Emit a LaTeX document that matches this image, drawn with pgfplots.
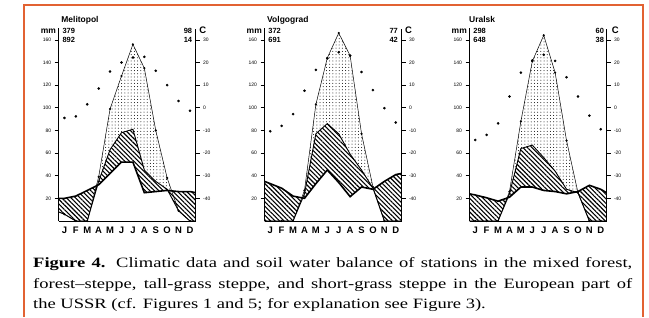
\documentclass[border=0pt]{standalone}
\usepackage{fontspec}
\setmainfont{Liberation Serif}
\setsansfont{Liberation Sans}
\newfontfamily\capfont{Liberation Serif}[FakeStretch=1.3]
\usepackage{pgfplots}
\pgfplotsset{compat=1.18}
\usepackage{pgfplotstable}
\usetikzlibrary{patterns.meta}
\definecolor{frameorange}{RGB}{226,98,50}

% x = month, P = precipitation, AE = actual ET, PE = potential ET (mm)
\pgfplotstableread{
x P AE PE
0.5 20 8 8
1 20 6 6
2 22 0 0
3 27 0 0
4 32 35 39
5 42 63 99
6 52 78 128
7 52 81 156
8 25 45 135
9 26 35 80
10 27 28 38
11 26 9 9
12 26 0 0
12.5 25 0 0
}\melitopol
\pgfplotstableread{
x y
0.5 20
1 20
2 22
3 27
4 32
5 42
6 52
7 52
8 25
9 26
10 27
11 26
12 26
12.5 25
12.5 0
12 0
11 9
10 28
9 35
8 45
7 81
6 78
5 63
4 35
3 0
2 0
1 6
0.5 8
}\melitopolH
\pgfplotstableread{
x y
3 0
4 35
5 63
6 78
7 81
8 45
9 35
10 28
11 9
10 38
9 80
8 135
7 156
6 128
5 99
4 39
3 0
}\melitopolD
\pgfplotstableread{
x T
1 -4.5
2 -3.8
3 1.5
4 8.5
5 16
6 20
7 22.2
8 22.5
9 16.3
10 10
11 3
12 -1.3
}\melitopolT

\pgfplotstableread{
x P AE PE
0.5 35 0 0
1 33 0 0
2 29 0 0
3 22 0 0
4 20 24 27
5 33 77 103
6 45 86 144
7 34 77 166
8 21.5 59 146
9 30 45 77
10 28 29 30
11 35 0 0
12 41 0 0
12.5 42 0 0
}\volgograd
\pgfplotstableread{
x y
0.5 35
1 33
2 29
3 22
4 20
5 33
6 45
7 34
8 21.5
9 30
10 28
11 35
12 41
12.5 42
12.5 0
12 0
11 0
10 29
9 45
8 59
7 77
6 86
5 77
4 24
3 0
2 0
1 0
0.5 0
}\volgogradH
\pgfplotstableread{
x y
3 0
4 24
5 77
6 86
7 77
8 59
9 45
10 29
11 0
10 30
9 77
8 146
7 166
6 144
5 103
4 27
3 0
}\volgogradD
\pgfplotstableread{
x T
1 -10.4
2 -8
3 -2.8
4 7.5
5 16.7
6 21.8
7 24.5
8 23
9 15.8
10 7.8
11 -0.2
12 -6.5
}\volgogradT

\pgfplotstableread{
x P AE PE
0.5 24 0 0
1 23 0 0
2 20.5 0 0
3 17.5 0 0
4 21 24 26
5 30 64 88
6 30 67 141
7 27 56 164
8 26 44 131
9 24 28 71
10 26 25 25
11 31.5 0 0
12 28 0 0
12.5 25 0 0
}\uralsk
\pgfplotstableread{
x y
0.5 24
1 23
2 20.5
3 17.5
4 21
5 30
6 30
7 27
8 26
9 24
10 26
11 31.5
12 28
12.5 25
12.5 0
12 0
11 0
10 25
9 28
8 44
7 56
6 67
5 64
4 24
3 0
2 0
1 0
0.5 0
}\uralskH
\pgfplotstableread{
x y
3 0
4 24
5 64
6 67
7 56
8 44
9 28
10 25
9 71
8 131
7 164
6 141
5 88
4 26
3 0
}\uralskD
\pgfplotstableread{
x T
1 -14.2
2 -12
3 -6.9
4 5
5 15.5
6 20.9
7 23.4
8 20.7
9 13.5
10 5
11 -3.5
12 -9.5
}\uralskT

\pgfplotsset{
  wbbase/.style={
    scale only axis, width=137bp, height=192.5bp,
    xmin=0.5, xmax=12.5, clip=false,
    axis line style={-, line width=0.8bp},
    tick align=outside, major tick length=4bp,
    /pgf/number format/assume math mode=true,
  },
  wb/.style={wbbase,
    ymin=0, ymax=170,
    axis x line*=bottom, axis y line*=left,
    xtick={1,...,12}, xticklabels={J,F,M,A,M,J,J,A,S,O,N,D},
    x tick style={draw=none},
    y tick style={line width=0.6bp, black},
    ytick={20,40,...,160},
    xticklabel style={font=\sffamily\bfseries\fontsize{9.5}{9.5}\selectfont, yshift=2bp},
    yticklabel style={font=\sffamily\fontsize{5}{5}\selectfont},
  },
  wbT/.style={wbbase,
    ymin=-50, ymax=35,
    axis x line=none, axis y line*=right,
    y tick style={line width=0.6bp, black},
    ytick={-40,-30,...,30},
    yticklabel style={font=\sffamily\fontsize{5}{5}\selectfont},
  },
  hatchfill/.style={draw=none, pattern={Lines[angle=-45, distance=3.2bp, line width=1.1bp]}, pattern color=black},
  dotfill/.style={draw=none, pattern={Dots[distance=3.2bp, radius=0.5bp]}, pattern color=black},
}
\tikzset{
  hdr/.style={anchor=base west, inner sep=0, font=\sffamily\bfseries\fontsize{7.5}{8}\selectfont},
  hdrr/.style={anchor=base east, inner sep=0, font=\sffamily\bfseries\fontsize{7.5}{8}\selectfont},
  nm/.style={anchor=base west, inner sep=0, font=\sffamily\bfseries\fontsize{8.5}{9}\selectfont},
  mmlab/.style={anchor=base east, inner sep=0, font=\sffamily\bfseries\fontsize{8.5}{9}\selectfont},
  clab/.style={anchor=base west, inner sep=0, font=\sffamily\bfseries\fontsize{9.5}{10}\selectfont},
  capline/.style={anchor=base west, inner sep=0, font=\capfont\fontsize{14.3}{17}\selectfont},
}

\begin{document}
\begin{tikzpicture}[x=1bp,y=1bp]
\path[use as bounding box, fill=white] (0,0) rectangle (649,317);
\draw[frameorange, line width=2bp] (24,0) -- (24,312) -- (643,312) -- (643,0);

% ---------------- Melitopol
\begin{axis}[wb, at={(58.7bp,96bp)}, anchor=south west]
  \addplot[dotfill] table[x=x,y=y]{\melitopolD} -- cycle;
  \addplot[hatchfill] table[x=x,y=y]{\melitopolH} -- cycle;
  \addplot[black, line width=0.5bp] table[x=x,y=PE]{\melitopol};
  \addplot[black, only marks, mark=*, mark size=0.9bp, restrict x to domain=1:12] table[x=x,y=PE]{\melitopol};
  \addplot[black, line width=0.9bp] table[x=x,y=AE]{\melitopol};
  \addplot[black, line width=1.6bp] table[x=x,y=P]{\melitopol};
  \node[nm] at (axis cs:0.72,175) {Melitopol};
  \node[mmlab] at (axis cs:0.28,166) {mm};
  \node[hdr] at (axis cs:0.82,166) {379};
  \node[hdr] at (axis cs:0.82,158) {892};
  \node[hdrr] at (axis cs:12.2,166) {98};
  \node[hdrr] at (axis cs:12.2,158) {14};
  \node[clab] at (axis cs:12.8,165.5) {C};
\end{axis}
\begin{axis}[wbT, at={(58.7bp,96bp)}, anchor=south west]
  \addplot[black, only marks, mark=*, mark size=1.1bp] table[x=x,y=T]{\melitopolT};
\end{axis}

% ---------------- Volgograd
\begin{axis}[wb, at={(264.5bp,96bp)}, anchor=south west]
  \addplot[dotfill] table[x=x,y=y]{\volgogradD} -- cycle;
  \addplot[hatchfill] table[x=x,y=y]{\volgogradH} -- cycle;
  \addplot[black, line width=0.5bp] table[x=x,y=PE]{\volgograd};
  \addplot[black, only marks, mark=*, mark size=0.9bp, restrict x to domain=1:12] table[x=x,y=PE]{\volgograd};
  \addplot[black, line width=0.9bp] table[x=x,y=AE]{\volgograd};
  \addplot[black, line width=1.6bp] table[x=x,y=P]{\volgograd};
  \node[nm] at (axis cs:0.72,175) {Volgograd};
  \node[mmlab] at (axis cs:0.28,166) {mm};
  \node[hdr] at (axis cs:0.82,166) {372};
  \node[hdr] at (axis cs:0.82,158) {691};
  \node[hdrr] at (axis cs:12.2,166) {77};
  \node[hdrr] at (axis cs:12.2,158) {42};
  \node[clab] at (axis cs:12.8,165.5) {C};
\end{axis}
\begin{axis}[wbT, at={(264.5bp,96bp)}, anchor=south west]
  \addplot[black, only marks, mark=*, mark size=1.1bp] table[x=x,y=T]{\volgogradT};
\end{axis}

% ---------------- Uralsk
\begin{axis}[wb, at={(469.5bp,96bp)}, anchor=south west]
  \addplot[dotfill] table[x=x,y=y]{\uralskD} -- cycle;
  \addplot[hatchfill] table[x=x,y=y]{\uralskH} -- cycle;
  \addplot[black, line width=0.5bp] table[x=x,y=PE]{\uralsk};
  \addplot[black, only marks, mark=*, mark size=0.9bp, restrict x to domain=1:12] table[x=x,y=PE]{\uralsk};
  \addplot[black, line width=0.9bp] table[x=x,y=AE]{\uralsk};
  \addplot[black, line width=1.6bp] table[x=x,y=P]{\uralsk};
  \node[nm] at (axis cs:0.45,175) {Uralsk};
  \node[mmlab] at (axis cs:0.28,166) {mm};
  \node[hdr] at (axis cs:0.82,166) {298};
  \node[hdr] at (axis cs:0.82,158) {648};
  \node[hdrr] at (axis cs:12.3,166) {60};
  \node[hdrr] at (axis cs:12.3,158) {38};
  \node[clab] at (axis cs:12.95,165.5) {C};
\end{axis}
\begin{axis}[wbT, at={(469.5bp,96bp)}, anchor=south west]
  \addplot[black, only marks, mark=*, mark size=1.1bp] table[x=x,y=T]{\uralskT};
\end{axis}

\node[capline] at (33,50) {\makebox[599bp][s]{\textbf{Figure 4.} Climatic data and soil water balance of stations in the mixed forest,}};
\node[capline] at (33,29) {\makebox[599bp][s]{forest–steppe, tall-grass steppe, and short-grass steppe in the European part of}};
\node[capline] at (33,9) {the USSR (cf. Figures 1 and 5; for explanation see Figure 3).};
\end{tikzpicture}
\end{document}
